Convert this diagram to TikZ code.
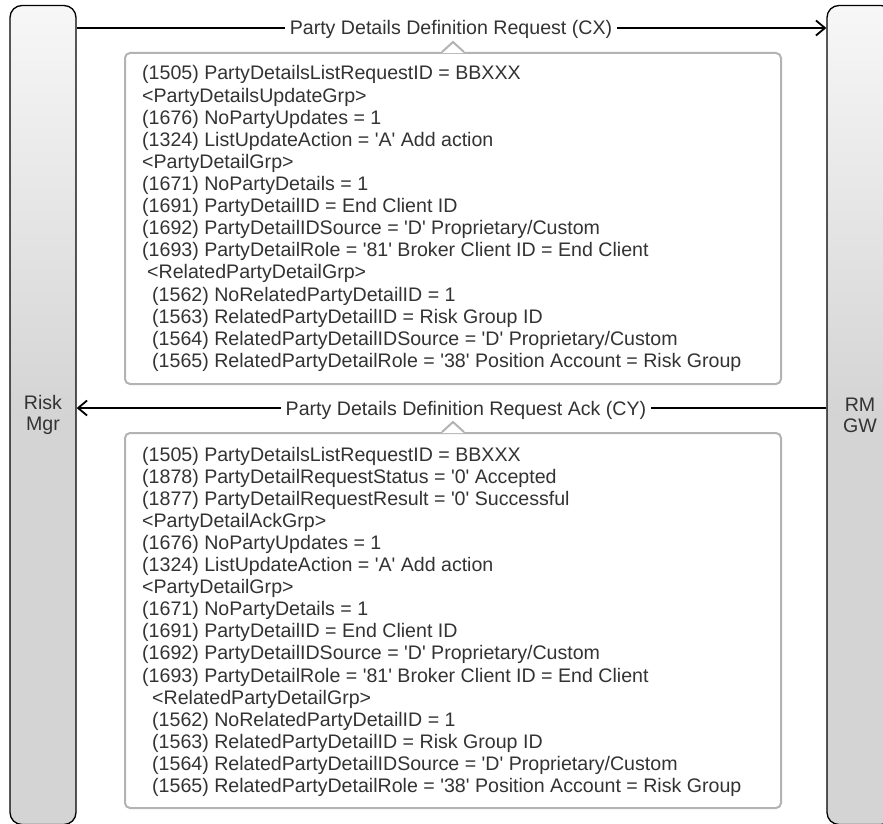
\documentclass[tikz,border=0pt]{standalone}
\usepackage{fontspec}
\setmainfont{Liberation Sans}
\usetikzlibrary{arrows.meta,calc}
\definecolor{txt}{HTML}{333333}
\definecolor{boxc}{HTML}{B3B3B3}
\definecolor{bartop}{HTML}{F7F7F7}
\definecolor{barbot}{HTML}{D4D4D4}
\newcommand\sq{\textquotesingle}
\tikzset{
  fnt/.style={font=\fontsize{19.6}{22}\selectfont},
  lifebar/.style={draw=black, line width=1.3pt, rounded corners=12pt,
    top color=bartop, bottom color=barbot, middle color=barbot,
    minimum width=66pt, minimum height=819pt, align=center, text=txt,
    font=\fontsize{19.6}{21}\selectfont},
  msg/.style={line width=1.8pt, draw=black},
  msgtip/.style={-{Straight Barb[length=9pt,width=15pt,line width=1.8pt]}},
  lab/.style={fnt, fill=white, inner xsep=5pt, inner ysep=1pt, anchor=base, text=txt},
  callout/.style={draw=boxc, line width=2pt, rounded corners=5pt, fill=white, inner sep=0pt},
  calloutline/.style={draw=boxc, line width=2pt, line join=miter},
  msgtxt/.style={fnt, anchor=base west, inner sep=0pt, text=txt}
}
\begin{document}
\begin{tikzpicture}[x=1pt,y=-1pt]
\useasboundingbox (0,0) rectangle (883,824);
% lifelines
\node[lifebar] (rm) at (43,415) {Risk\\Mgr};
\node[lifebar] (gw) at (860,415) {RM\\GW};
% callout boxes
\node[callout, anchor=north west, minimum width=656pt, minimum height=331pt] (box1) at (124,52) {};
\node[callout, anchor=north west, minimum width=656pt, minimum height=375pt] (box2) at (124,432) {};
\foreach \b in {box1,box2}{
  \coordinate (\b-apex) at ($(\b.north)+(0,-10)$);
  \fill[white] ($(\b.north)+(-11,1.2)$) -- (\b-apex) -- ($(\b.north)+(11,1.2)$) -- cycle;
  \draw[calloutline] ($(\b.north)+(-11,0)$) -- (\b-apex) -- ($(\b.north)+(11,0)$);
}
% messages
\coordinate (y1) at (0,28);
\coordinate (y2) at (0,408);
\draw[msg,msgtip] (rm.east |- y1) -- (gw.west |- y1);
\node[lab] (lab1) at (451,35) {Party Details Definition Request (CX)};
\draw[msg,msgtip] (gw.west |- y2) -- (rm.east |- y2);
\node[lab] (lab2) at (466,415) {Party Details Definition Request Ack (CY)};
% texts box 1
\foreach \t [count=\i] in {
 {(1505) PartyDetailsListRequestID = BBXXX},
 {<PartyDetailsUpdateGrp>},
 {(1676) NoPartyUpdates = 1},
 {(1324) ListUpdateAction = \sq{}A\sq{} Add action},
 {<PartyDetailGrp>},
 {(1671) NoPartyDetails = 1},
 {(1691) PartyDetailID = End Client ID},
 {(1692) PartyDetailIDSource = \sq{}D\sq{} Proprietary/Custom},
 {(1693) PartyDetailRole = \sq{}81\sq{} Broker Client ID = End Client},
 {\hspace{5pt}<RelatedPartyDetailGrp>},
 {\hspace{10pt}(1562) NoRelatedPartyDetailID = 1},
 {\hspace{10pt}(1563) RelatedPartyDetailID = Risk Group ID},
 {\hspace{10pt}(1564) RelatedPartyDetailIDSource = \sq{}D\sq{} Proprietary/Custom},
 {\hspace{10pt}(1565) RelatedPartyDetailRole = \sq{}38\sq{} Position Account = Risk Group}
}{\node[msgtxt] (p\i) at (142,{80+22.1*(\i-1)}) {\t};}
% texts box 2
\foreach \t [count=\i] in {
 {(1505) PartyDetailsListRequestID = BBXXX},
 {(1878) PartyDetailRequestStatus = \sq{}0\sq{} Accepted},
 {(1877) PartyDetailRequestResult = \sq{}0\sq{} Successful},
 {<PartyDetailAckGrp>},
 {(1676) NoPartyUpdates = 1},
 {(1324) ListUpdateAction = \sq{}A\sq{} Add action},
 {<PartyDetailGrp>},
 {(1671) NoPartyDetails = 1},
 {(1691) PartyDetailID = End Client ID},
 {(1692) PartyDetailIDSource = \sq{}D\sq{} Proprietary/Custom},
 {(1693) PartyDetailRole = \sq{}81\sq{} Broker Client ID = End Client},
 {\hspace{10pt}<RelatedPartyDetailGrp>},
 {\hspace{10pt}(1562) NoRelatedPartyDetailID = 1},
 {\hspace{10pt}(1563) RelatedPartyDetailID = Risk Group ID},
 {\hspace{10pt}(1564) RelatedPartyDetailIDSource = \sq{}D\sq{} Proprietary/Custom},
 {\hspace{10pt}(1565) RelatedPartyDetailRole = \sq{}38\sq{} Position Account = Risk Group}
}{\node[msgtxt] (r\i) at (142,{461+22.1*(\i-1)}) {\t};}
\end{tikzpicture}
\end{document}
